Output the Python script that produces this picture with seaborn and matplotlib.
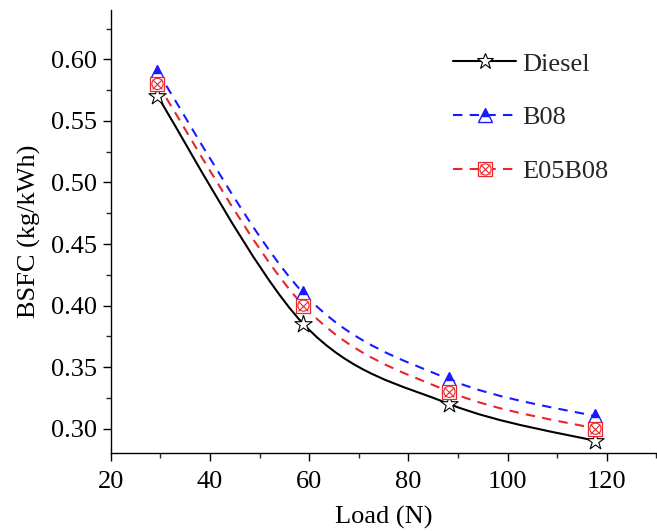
import matplotlib
matplotlib.use('Agg')
import matplotlib.pyplot as plt
from matplotlib.path import Path
from matplotlib.patches import PathPatch
from matplotlib.lines import Line2D
from matplotlib.legend_handler import HandlerTuple
from matplotlib.ticker import MultipleLocator, FormatStrFormatter
import seaborn as sns
import pandas as pd
import numpy as np

load = [29.43, 58.86, 88.29, 117.72]
diesel = [0.57, 0.385, 0.32, 0.29]
b08 = [0.59, 0.41, 0.34, 0.31]
e05b08 = [0.58, 0.40, 0.33, 0.30]

sns.set_style('ticks')
plt.rcParams['font.family'] = ['Liberation Serif', 'DejaVu Serif']

BLUE = '#1a1aff'
RED = '#e8262b'
DASH = (0, (4.5, 3.5))
LW = 1.5


def smooth_path(x, y):
    # catmull-rom curve through the points, drawn as cubic bezier pieces
    p = np.column_stack([x, y]).astype(float)
    ext = np.vstack([p[0], p, p[-1]])
    verts = [p[0]]
    codes = [Path.MOVETO]
    for i in range(len(p) - 1):
        p0, p1, p2, p3 = ext[i], ext[i + 1], ext[i + 2], ext[i + 3]
        verts += [p1 + (p2 - p0) / 6, p2 - (p3 - p1) / 6, p2]
        codes += [Path.CURVE4] * 3
    return Path(verts, codes)


fig = plt.figure(figsize=(6.57, 5.31), dpi=100)
ax = fig.add_axes([0.1685, 0.1463, 0.8305, 0.8347])

for vals, col, ls in [(diesel, 'black', '-'), (b08, BLUE, DASH), (e05b08, RED, DASH)]:
    ax.add_patch(PathPatch(smooth_path(load, vals), facecolor='none',
                           edgecolor=col, lw=LW, linestyle=ls, zorder=2))

df = pd.DataFrame({'Load': load, 'Diesel': diesel, 'B08': b08, 'E05B08': e05b08})

sns.scatterplot(data=df, x='Load', y='Diesel', marker='*', s=170,
                facecolor='white', edgecolor='black', linewidth=0.8, ax=ax, zorder=4)
ax.plot(df['Load'], df['B08'], linestyle='none', marker='^', markersize=10,
        color=BLUE, fillstyle='top', markerfacecoloralt='white',
        markeredgecolor=BLUE, markeredgewidth=1.0, zorder=4)
sns.scatterplot(data=df, x='Load', y='E05B08', marker='s', s=95,
                facecolor='white', edgecolor=RED, linewidth=0.9, ax=ax, zorder=4)
sns.scatterplot(data=df, x='Load', y='E05B08', marker='o', s=65,
                facecolor='none', edgecolor=RED, linewidth=0.8, ax=ax, zorder=5)
sns.scatterplot(data=df, x='Load', y='E05B08', marker='x', s=50,
                color=RED, linewidth=0.8, ax=ax, zorder=6)

ax.set_xlim(20, 130)
ax.set_ylim(0.28, 0.64)
ax.xaxis.set_major_locator(MultipleLocator(20))
ax.xaxis.set_minor_locator(MultipleLocator(10))
ax.yaxis.set_major_locator(MultipleLocator(0.05))
ax.yaxis.set_minor_locator(MultipleLocator(0.025))
ax.yaxis.set_major_formatter(FormatStrFormatter('%.2f'))
ax.tick_params(which='major', direction='out', length=6, width=1, labelsize=19,
               colors='black', pad=4)
ax.tick_params(axis='x', which='major', pad=7)
ax.tick_params(which='minor', direction='out', length=3.5, width=1)
sns.despine(ax=ax)
for s in ['left', 'bottom']:
    ax.spines[s].set_color('black')
    ax.spines[s].set_linewidth(1)
ax.set_xlabel('Load (N)', fontsize=19, color='black', labelpad=9)
ax.set_ylabel('BSFC (kg/kWh)', fontsize=19, color='black', labelpad=7)

h_d = Line2D([], [], color='black', lw=LW, marker='*', markersize=12,
             markerfacecolor='white', markeredgecolor='black', markeredgewidth=0.8)
h_b = Line2D([], [], color=BLUE, lw=LW, linestyle=DASH, marker='^',
             markersize=10, fillstyle='top', markerfacecoloralt='white',
             markeredgecolor=BLUE, markeredgewidth=1.0)
h_e1 = Line2D([], [], color=RED, lw=LW, linestyle=DASH, marker='s',
              markersize=9.5, markerfacecolor='white', markeredgecolor=RED,
              markeredgewidth=0.9)
h_e2 = Line2D([], [], linestyle='none', marker='o', markersize=8,
              markerfacecolor='none', markeredgecolor=RED, markeredgewidth=0.8)
h_e3 = Line2D([], [], linestyle='none', marker='x', markersize=7,
              markeredgecolor=RED, markeredgewidth=0.8)
ax.legend([h_d, h_b, (h_e1, h_e2, h_e3)], ['Diesel', 'B08', 'E05B08'],
          handler_map={tuple: HandlerTuple(ndivide=1, pad=0)},
          loc='upper left', bbox_to_anchor=(0.6266, 0.905), frameon=False,
          fontsize=19, handlelength=2.42, labelspacing=1.15, borderpad=0,
          borderaxespad=0, handletextpad=0.23)

fig.savefig('out.png', dpi=100)
